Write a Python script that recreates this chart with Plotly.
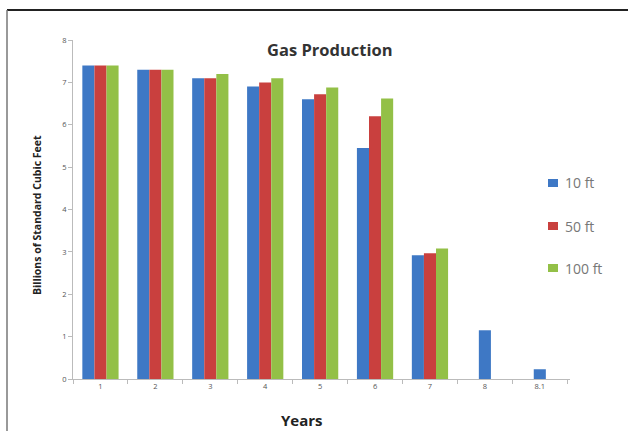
import plotly.graph_objects as go

years = ["1", "2", "3", "4", "5", "6", "7", "8", "8.1"]
s10 = [7.4, 7.3, 7.1, 6.9, 6.6, 5.45, 2.92, 1.15, 0.23]
s50 = [7.4, 7.3, 7.1, 7.0, 6.72, 6.2, 2.97, None, None]
s100 = [7.4, 7.3, 7.2, 7.1, 6.88, 6.62, 3.08, None, None]
names = ["10 ft", "50 ft", "100 ft"]
colors = ["#3E78C5", "#C9403E", "#93C047"]

W, H = 628, 431
L, T = 73, 40
PR, PB = 570, 379           # plot right / bottom in pixels
R, B = W - PR, H - PB
pw, ph = PR - L, PB - T


def px(x):
    return (x - L) / pw


def py(y):
    return (PB - y) / ph


bw = 0.22  # bar width in category units
series = [s10, s50, s100]
fig = go.Figure()
for i, (vals, nm, c) in enumerate(zip(series, names, colors)):
    # number of bars present in each category decides how the group is centred
    offs = []
    for k in range(len(years)):
        n = sum(1 for s in series if s[k] is not None)
        offs.append(-n * bw / 2 + i * bw)
    fig.add_trace(go.Bar(x=years, y=vals, name=nm, marker_color=c,
                         marker_line_width=0, width=bw, offset=offs,
                         showlegend=False))

annotations = [
    dict(text="<b>Gas Production</b>", x=px(330), y=py(49),
         xref="paper", yref="paper", showarrow=False,
         font=dict(size=16.5, color="#333", family="Open Sans"),
         xanchor="center", yanchor="middle"),
    dict(text="<b>Years</b>", x=px(302), y=py(420),
         xref="paper", yref="paper", showarrow=False,
         font=dict(size=15, color="#222", family="Open Sans"),
         xanchor="center", yanchor="middle"),
    dict(text="<b>Billions of Standard Cubic Feet</b>", x=px(37), y=py(215),
         xref="paper", yref="paper", showarrow=False, textangle=-90,
         font=dict(size=10.5, color="#222", family="Open Sans"),
         xanchor="center", yanchor="middle"),
]
shapes = [
    dict(type="line", xref="paper", yref="paper", x0=px(7), x1=px(W), y0=py(10), y1=py(10),
         line=dict(color="#222", width=2)),
    dict(type="line", xref="paper", yref="paper", x0=px(7), x1=px(7), y0=py(H), y1=py(10),
         line=dict(color="#777", width=1.5)),
]
# legend (drawn by hand to match the compact original layout)
for nm, c, ly in zip(names, colors, [183, 226, 268]):
    shapes.append(dict(type="rect", xref="paper", yref="paper",
                       x0=px(548), x1=px(558), y0=py(ly + 4), y1=py(ly - 4),
                       fillcolor=c, line=dict(width=0)))
    annotations.append(dict(text=nm, x=px(563), y=py(ly), xref="paper", yref="paper",
                            showarrow=False, xanchor="left", yanchor="middle",
                            font=dict(size=14, color="#777", family="Open Sans")))

fig.update_layout(
    width=W, height=H,
    margin=dict(l=L, r=R, t=T, b=B, autoexpand=False),
    paper_bgcolor="white", plot_bgcolor="white",
    barmode="overlay",
    font=dict(family="Open Sans, sans-serif", color="#444"),
    showlegend=False,
    annotations=annotations,
    shapes=shapes,
)
fig.update_xaxes(showline=True, linecolor="#BBBBBB", linewidth=1, ticks="outside",
                 tickson="boundaries", ticklen=4, tickcolor="#BBBBBB",
                 tickfont=dict(size=7.5, color="#555"), showgrid=False)
fig.update_yaxes(range=[0, 8], dtick=1, showline=True, linecolor="#BBBBBB", linewidth=1,
                 ticks="outside", ticklen=4, tickcolor="#BBBBBB",
                 tickfont=dict(size=7.5, color="#555"), showgrid=False, zeroline=False)

fig.write_html("out.html", config={"displayModeBar": False},
               post_script="document.body.style.margin='0';document.body.style.padding='0';")
